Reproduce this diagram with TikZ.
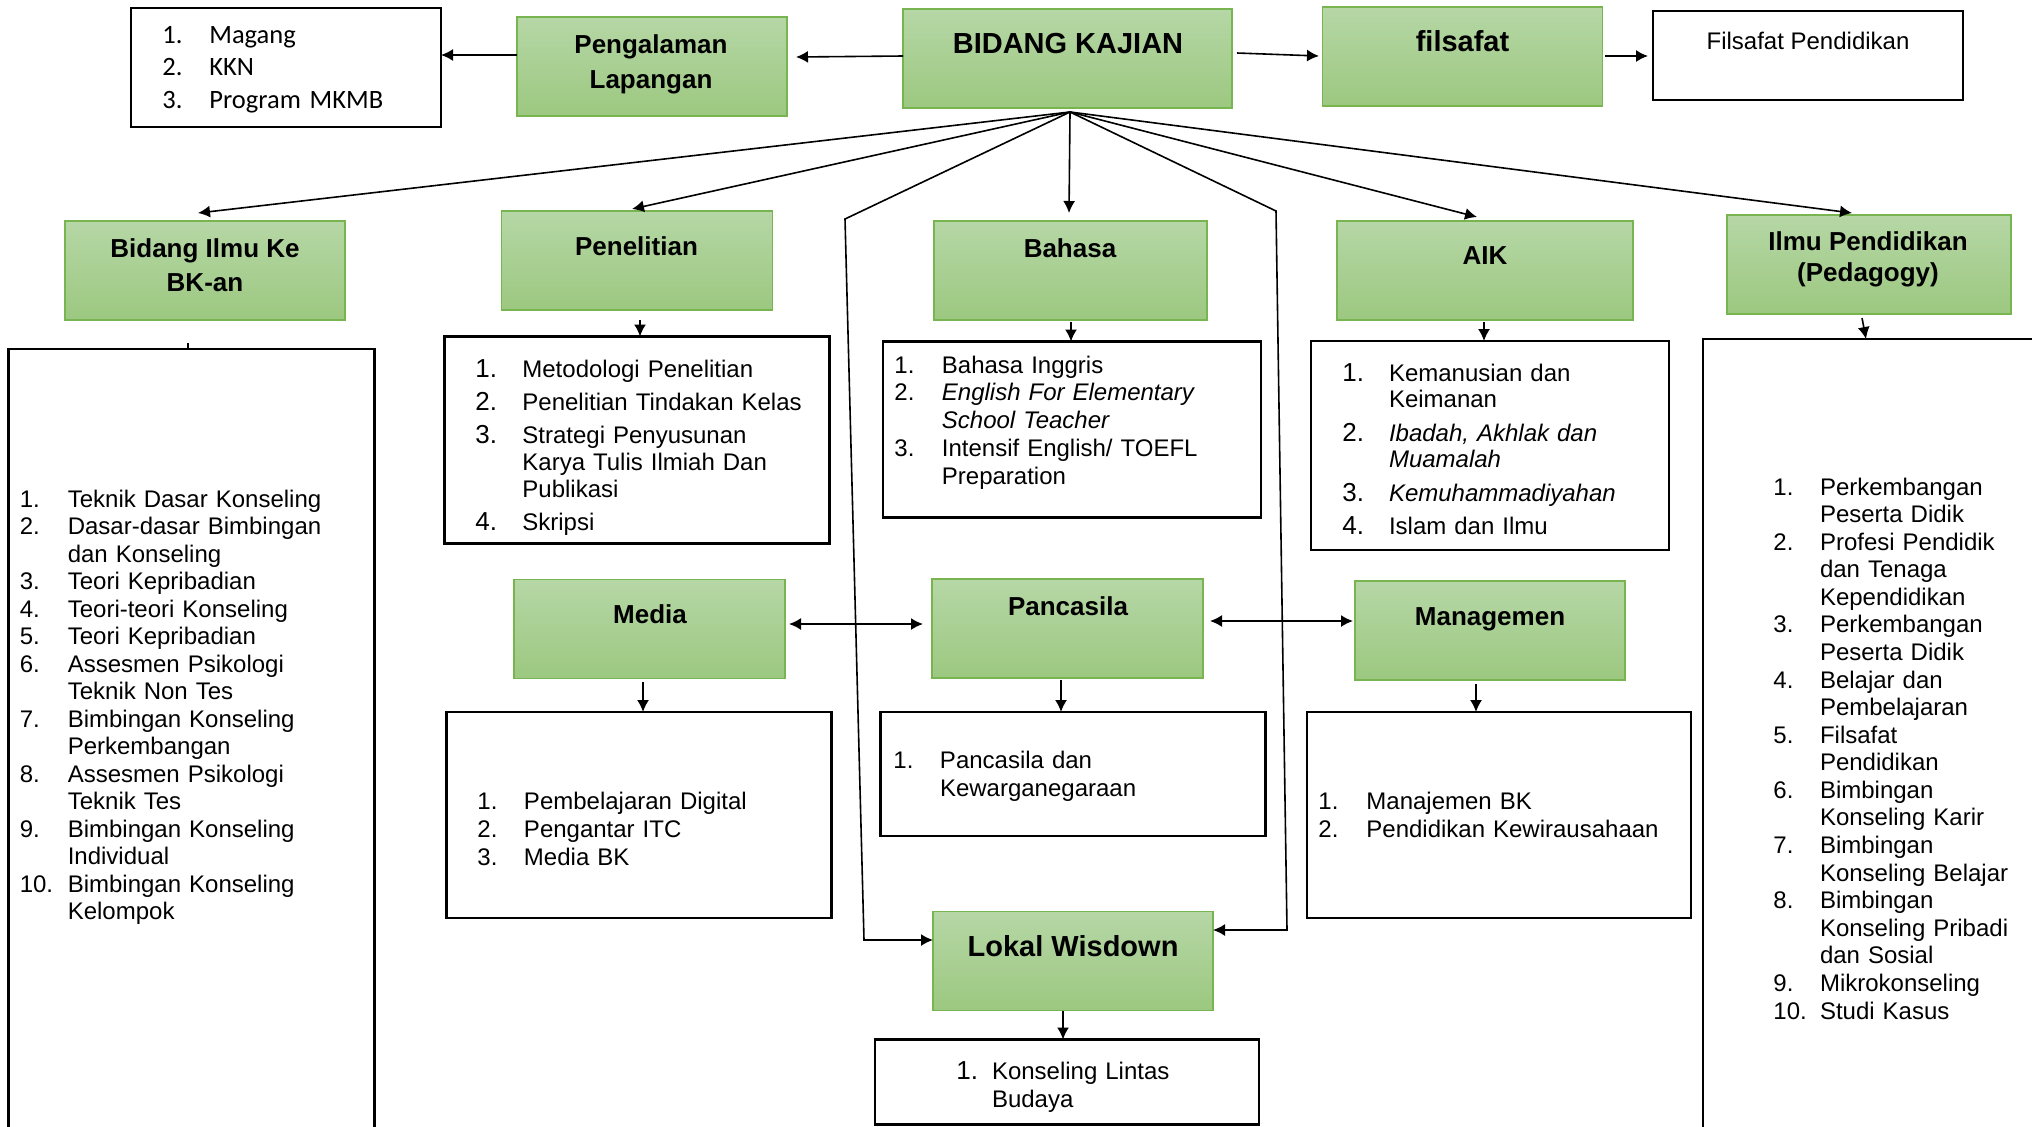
\documentclass[tikz,border=0pt]{standalone}
\usepackage{fontspec}
\setmainfont{Liberation Sans}
\newfontfamily\calfont{Carlito}
\usetikzlibrary{calc,arrows.meta}
\definecolor{gtop}{RGB}{182,215,166}
\definecolor{gbot}{RGB}{156,200,128}
\definecolor{gline}{RGB}{120,180,80}
\newlength\numw
\newcommand{\itm}[2]{\hangindent=\numw\hangafter=1\noindent\makebox[\numw][l]{#1}#2\par}
\newcommand{\bignum}[1]{{\fontsize{13}{13}\selectfont #1}}
\begin{document}
\begin{tikzpicture}[x=0.5pt,y=-0.5pt,
  gbox/.style={draw=gline, line width=0.8pt, top color=gtop, bottom color=gbot, inner sep=0pt, outer sep=0pt},
  wbox/.style={draw=black, line width=1.2pt, fill=white, inner sep=0pt, outer sep=0pt},
  arr/.style={line width=0.8pt, -{Latex[length=6pt,width=6pt]}},
  darr/.style={line width=0.8pt, {Latex[length=6pt,width=6pt]}-{Latex[length=6pt,width=6pt]}},
  glab/.style={font=\bfseries\fontsize{13}{15}\selectfont, anchor=base, inner sep=0pt},
  glabb/.style={font=\bfseries\fontsize{14.5}{17}\selectfont, anchor=base, inner sep=0pt},
  lst/.style={anchor=base west, inner sep=0pt, text width=200pt, align=left, font=\fontsize{12}{13.75}\selectfont},
]
\useasboundingbox (0,0) rectangle (2032,1126);

% boxes
\node[wbox, minimum width=155pt, minimum height=59.5pt] (mag) at (286,67.5) {};
\node[gbox, minimum width=135pt, minimum height=49.5pt] (peng) at (652,66.5) {};
\node[gbox, minimum width=164.5pt, minimum height=49.5pt] (bk) at (1067.5,58.5) {};
\node[gbox, minimum width=140pt, minimum height=49.5pt] (fil) at (1462.5,56.5) {};
\node[wbox, minimum width=155pt, minimum height=44.5pt] (filp) at (1808,55.5) {};
\node[gbox, minimum width=140pt, minimum height=49.5pt] (bil) at (205,270.5) {};
\node[gbox, minimum width=135.5pt, minimum height=49.5pt] (pen) at (637,260.5) {};
\node[gbox, minimum width=136.5pt, minimum height=49.5pt] (bah) at (1070.5,270.5) {};
\node[gbox, minimum width=148pt, minimum height=49.5pt] (aik) at (1485,270.5) {};
\node[gbox, minimum width=142pt, minimum height=49.5pt] (ilmu) at (1869,264.5) {};
\node[wbox, minimum width=183pt, minimum height=395.5pt] (bill) at (191.5,744.5) {};
\node[wbox, minimum width=192.5pt, minimum height=103.5pt] (penl) at (637,440) {};
\node[wbox, minimum width=189pt, minimum height=88pt] (bahl) at (1072,429.5) {};
\node[wbox, minimum width=179pt, minimum height=104.5pt] (aikl) at (1490,445.5) {};
\node[wbox, minimum width=171pt, minimum height=400.5pt] (ilmul) at (1874,739.5) {};
\node[gbox, minimum width=135.5pt, minimum height=49.5pt] (media) at (649.5,628.8) {};
\node[gbox, minimum width=135.5pt, minimum height=49.5pt] (panc) at (1067.5,628.75) {};
\node[gbox, minimum width=135pt, minimum height=49.5pt] (man) at (1490,630.5) {};
\node[wbox, minimum width=192.5pt, minimum height=103pt] (medial) at (639,815) {};
\node[wbox, minimum width=192.5pt, minimum height=62pt] (pancl) at (1073,774) {};
\node[wbox, minimum width=192pt, minimum height=103pt] (manl) at (1499,815) {};
\node[gbox, minimum width=140pt, minimum height=49.5pt] (lokal) at (1073,961) {};
\node[wbox, minimum width=192pt, minimum height=42.5pt] (klb) at (1067,1082) {};

% connectors
\draw[arr] ($(bk.west)+(0,-2.5)$) -- ($(peng.east)+(9,-9.5)$);
\draw[arr] ($(peng.west)+(0,-11.5)$) -- ($(mag.east)+(0,-12.5)$);
\draw[arr] ($(bk.east)+(5,-5.5)$) -- ($(fil.west)+(-3.5,-0.5)$);
\draw[arr] ($(fil.east)+(2.5,-0.5)$) -- ($(filp.west)+(-5,0.5)$);

\coordinate (fo) at ($(bk.south)+(2.5,4)$);
\coordinate (c1) at (845,219);
\coordinate (c2) at (864,940);
\coordinate (c3) at (1276,211);
\coordinate (c4) at (1287,930);
\draw[arr] (fo) -- ($(bil.north)+(-7,-8)$);
\draw[arr] (fo) -- ($(pen.north)+(-5,-2)$);
\draw[arr] (fo) -- (c1) -- (c2) -- (c2 -| lokal.west);
\draw[arr] (fo) -- ($(bah.north)+(-1.5,-8)$);
\draw[arr] (fo) -- (c3) -- (c4) -- (c4 -| lokal.east);
\draw[arr] (fo) -- ($(aik.north)+(-8,-4)$);
\draw[arr] (fo) -- ($(ilmu.north)+(-17,-2)$);

\draw[line width=0.8pt] ($(bill.north)+(-3.5,-6)$) -- ($(bill.north)+(-3.5,1)$);
\draw[arr] ($(pen.south)+(3,10)$) -- ($(penl.north)+(3,0)$);
\draw[arr] ($(bah.south)+(0.5,2)$) -- ($(bahl.north)+(-1,0)$);
\draw[arr] ($(aik.south)+(-1,2)$) -- ($(aikl.north)+(-6,0)$);
\draw[arr] ($(ilmu.south)+(-7,4)$) -- ($(ilmul.north)+(-8,0)$);
\draw[arr] ($(media.south)+(-6.5,4)$) -- ($(medial.north)+(4,0)$);
\draw[arr] ($(panc.south)+(-6.5,2)$) -- ($(pancl.north)+(-12,0)$);
\draw[arr] ($(man.south)+(-14,4)$) -- ($(manl.north)+(-23,0)$);
\draw[arr] ($(lokal.south)+(-10,0.5)$) -- ($(klb.north)+(-4,0)$);

\draw[darr] ($(media.east)+(4,-4.8)$) -- ($(panc.west)+(-9,-4.75)$);
\draw[darr] ($(panc.east)+(7,-7.75)$) -- ($(man.west)+(-2,-9.5)$);

% green labels
\node[glab] (peng-a) at (651,53) {Pengalaman};
\node[glab] (peng-b) at (651,88) {Lapangan};
\node[glabb] (bk-t) at (1068,53) {BIDANG KAJIAN};
\node[glabb] (fil-t) at (1462.5,51) {filsafat};
\node[glab] (bil-a) at (205,257) {Bidang Ilmu Ke};
\node[glab] (bil-b) at (205,291) {BK-an};
\node[glab] (pen-t) at (636.5,255) {Penelitian};
\node[glab] (bah-t) at (1070,257) {Bahasa};
\node[glab] (aik-t) at (1485,264) {AIK};
\node[glab] (ilmu-a) at (1868,250) {Ilmu Pendidikan};
\node[glab] (ilmu-b) at (1868,281) {(Pedagogy)};
\node[glab] (media-t) at (650,623) {Media};
\node[glab] (panc-t) at (1068,615) {Pancasila};
\node[glab] (man-t) at (1490,625) {Managemen};
\node[glabb] (lokal-t) at (1073,956) {Lokal Wisdown};

% list texts
\node[anchor=base, inner sep=0pt, font=\fontsize{12}{14}\selectfont] (filp-t) at (1808,49) {Filsafat Pendidikan};

\node[lst, font=\calfont\fontsize{13.25}{16.25}\selectfont] (mag-t) at (162,43) {\setlength\numw{23.5pt}%
\itm{1.}{Magang}%
\itm{2.}{KKN}%
\itm{3.}{Program MKMB}};

\node[lst] (bill-t) at (19.4,507) {\setlength\numw{24pt}%
\itm{1.}{Teknik Dasar Konseling}%
\itm{2.}{Dasar-dasar Bimbingan\newline dan Konseling}%
\itm{3.}{Teori Kepribadian}%
\itm{4.}{Teori-teori Konseling}%
\itm{5.}{Teori Kepribadian}%
\itm{6.}{Assesmen Psikologi\newline Teknik Non Tes}%
\itm{7.}{Bimbingan Konseling\newline Perkembangan}%
\itm{8.}{Assesmen Psikologi\newline Teknik Tes}%
\itm{9.}{Bimbingan Konseling\newline Individual}%
\itm{10.}{Bimbingan Konseling\newline Kelompok}};

\node[lst, font=\fontsize{12}{13.4}\selectfont] (penl-t) at (475,377) {\setlength\numw{23.5pt}\setlength\parskip{3.3pt}%
\itm{\bignum{1.}}{Metodologi Penelitian}%
\itm{\bignum{2.}}{Penelitian Tindakan Kelas}%
\itm{\bignum{3.}}{Strategi Penyusunan\newline Karya Tulis Ilmiah Dan\newline Publikasi}%
\itm{\bignum{4.}}{Skripsi}};

\node[lst, font=\fontsize{12}{13.9}\selectfont] (bahl-t) at (894,373) {\setlength\numw{23.75pt}%
\itm{1.}{Bahasa Inggris}%
\itm{2.}{\textit{English For Elementary\newline School Teacher}}%
\itm{3.}{Intensif English/ TOEFL\newline Preparation}};

\node[lst, font=\fontsize{12}{13.4}\selectfont] (aikl-t) at (1342,381) {\setlength\numw{23.3pt}\setlength\parskip{3.2pt}%
\itm{\bignum{1.}}{Kemanusian dan\newline Keimanan}%
\itm{\bignum{2.}}{\textit{Ibadah, Akhlak dan\newline Muamalah}}%
\itm{\bignum{3.}}{\textit{Kemuhammadiyahan}}%
\itm{\bignum{4.}}{Islam dan Ilmu}};

\node[lst, font=\fontsize{12}{13.79}\selectfont] (ilmul-t) at (1773,495) {\setlength\numw{23.3pt}%
\itm{1.}{Perkembangan\newline Peserta Didik}%
\itm{2.}{Profesi Pendidik\newline dan Tenaga\newline Kependidikan}%
\itm{3.}{Perkembangan\newline Peserta Didik}%
\itm{4.}{Belajar dan\newline Pembelajaran}%
\itm{5.}{Filsafat\newline Pendidikan}%
\itm{6.}{Bimbingan\newline Konseling Karir}%
\itm{7.}{Bimbingan\newline Konseling Belajar}%
\itm{8.}{Bimbingan\newline Konseling Pribadi\newline dan Sosial}%
\itm{9.}{Mikrokonseling}%
\itm{10.}{Studi Kasus}};

\node[lst, font=\fontsize{12}{14}\selectfont] (medial-t) at (477,809) {\setlength\numw{23.3pt}%
\itm{1.}{Pembelajaran Digital}%
\itm{2.}{Pengantar ITC}%
\itm{3.}{Media BK}};

\node[lst, font=\fontsize{12}{13.9}\selectfont] (pancl-t) at (893,768.7) {\setlength\numw{23.3pt}%
\itm{1.}{Pancasila dan\newline Kewarganegaraan}};

\node[lst, font=\fontsize{12}{14}\selectfont] (manl-t) at (1318,809) {\setlength\numw{24pt}%
\itm{1.}{Manajemen BK}%
\itm{2.}{Pendidikan Kewirausahaan}};

\node[lst, font=\fontsize{12}{14}\selectfont] (klb-t) at (956,1079) {\setlength\numw{17.8pt}%
\itm{\bignum{1.}}{Konseling Lintas\newline Budaya}};
\end{tikzpicture}
\end{document}
